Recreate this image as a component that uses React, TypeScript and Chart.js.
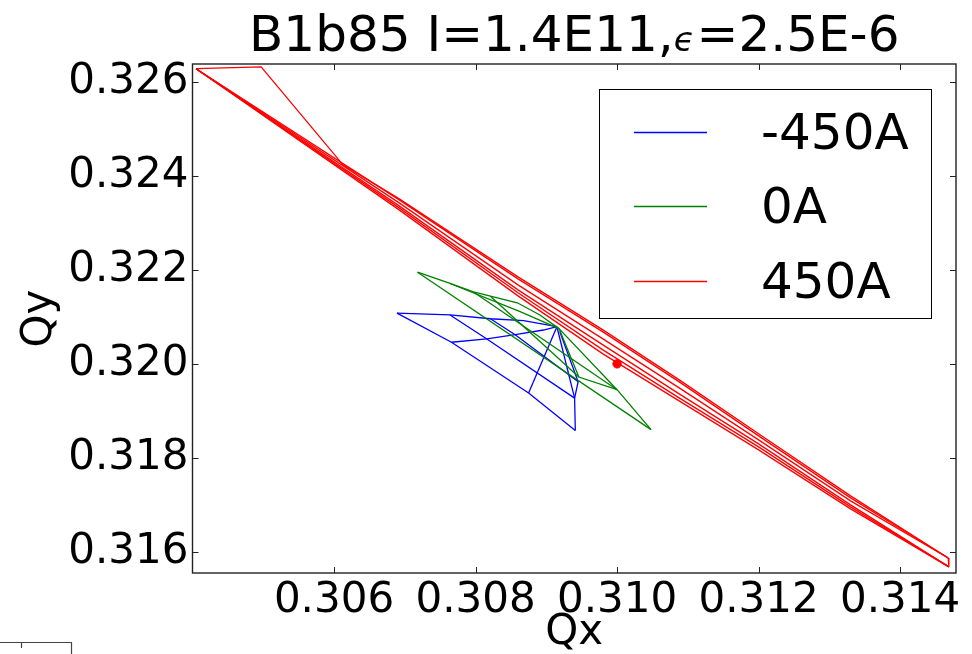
import { useEffect, useRef } from "react";
import { Chart, registerables } from "chart.js";

Chart.register(...registerables);

type Pt = [number, number];

// Axis limits and tick positions
const qxRange: Pt = [0.304, 0.31479];
const qyRange: Pt = [0.31555, 0.32638];
const qxTicks = [0.306, 0.308, 0.31, 0.312, 0.314];
const qyTicks = [0.316, 0.318, 0.32, 0.322, 0.324, 0.326];

const seriesLabels = ["-450A", "0A", "450A"];
const seriesColors = ["#0000ff", "#008000", "#ff0000"];

// -450A tune footprint (Qx, Qy), one polyline per grid line
const neg450Lines: Pt[][] = [
  [[0.30689, 0.32108], [0.30764, 0.32104], [0.30821, 0.32096], [0.30868, 0.32092], [0.30915, 0.32079]],
  [[0.30766, 0.32046], [0.30816, 0.32053], [0.30856, 0.32062], [0.30896, 0.32072], [0.30915, 0.32079]],
  [[0.30689, 0.32108], [0.30766, 0.32046], [0.30875, 0.31938], [0.30941, 0.31858]],
  [[0.30941, 0.31858], [0.3094, 0.31927], [0.30945, 0.31962], [0.30919, 0.32069]],
  [[0.30764, 0.32104], [0.30816, 0.32053], [0.3094, 0.31927]],
  [[0.30821, 0.32096], [0.30856, 0.32062], [0.30945, 0.31962]],
  [[0.30875, 0.31938], [0.30915, 0.32079]],
  [[0.30915, 0.32079], [0.3094, 0.31927]],
];

// 0A tune footprint
const zeroLines: Pt[][] = [
  [[0.30718, 0.32195], [0.30764, 0.32171], [0.30797, 0.32153], [0.30821, 0.32144], [0.30859, 0.3213], [0.30891, 0.32104], [0.30918, 0.32075]],
  [[0.30718, 0.32195], [0.31048, 0.3186]],
  [[0.30918, 0.32075], [0.31, 0.31945], [0.31048, 0.3186]],
  [[0.30918, 0.32075], [0.30946, 0.31972], [0.31, 0.31945]],
  [[0.30797, 0.32153], [0.31, 0.31945]],
  [[0.30821, 0.32144], [0.30946, 0.31972]],
  [[0.30764, 0.32171], [0.30863, 0.32111], [0.30918, 0.32075]],
];

// 450A tune footprint
const pos450Lines: Pt[][] = [
  [[0.30405, 0.32628], [0.30497, 0.32632], [0.30613, 0.32423], [0.3069, 0.323532], [0.3086, 0.321851], [0.3098, 0.320723], [0.3109, 0.319638], [0.312, 0.318511], [0.3133, 0.317191], [0.31468, 0.31587]],
  [[0.30405, 0.32628], [0.3069, 0.323511], [0.3086, 0.321809], [0.3098, 0.320681], [0.3109, 0.319596], [0.312, 0.318468], [0.3133, 0.317149], [0.31468, 0.31587]],
  [[0.30405, 0.32628], [0.3069, 0.323447], [0.3086, 0.321681], [0.3098, 0.320532], [0.3109, 0.319468], [0.312, 0.318383], [0.3133, 0.317085], [0.31468, 0.31587]],
  [[0.30405, 0.32628], [0.3069, 0.323383], [0.3086, 0.321574], [0.3098, 0.320404], [0.3109, 0.31934], [0.312, 0.318298], [0.3133, 0.317], [0.31469, 0.31568]],
  [[0.30405, 0.32628], [0.3069, 0.32334], [0.3086, 0.321511], [0.3098, 0.320298], [0.3109, 0.319255], [0.312, 0.318234], [0.3133, 0.316957], [0.31469, 0.31568]],
  [[0.30405, 0.32628], [0.3069, 0.323298], [0.3086, 0.321447], [0.3098, 0.320213], [0.3109, 0.319191], [0.312, 0.31817], [0.3133, 0.316915], [0.31469, 0.31568]],
  [[0.31468, 0.31587], [0.31469, 0.31568]],
];

// Nominal working point
const workingPoint: Pt = [0.31, 0.32];

const FONT = '"DejaVu Sans", sans-serif';

const decorPlugin = {
  id: "decor",
  afterDraw(chart: any) {
    const ctx: CanvasRenderingContext2D = chart.ctx;
    const { left, right, top, bottom } = chart.chartArea;
    const xs = chart.scales.x;
    const ys = chart.scales.y;
    ctx.save();

    // Frame and inward ticks on all four sides
    ctx.strokeStyle = "#222";
    ctx.lineWidth = 1.4;
    ctx.strokeRect(left, top, right - left, bottom - top);
    ctx.lineWidth = 1;
    ctx.beginPath();
    for (const v of qxTicks) {
      const px = Math.round(xs.getPixelForValue(v)) + 0.5;
      ctx.moveTo(px, bottom);
      ctx.lineTo(px, bottom - 6);
      ctx.moveTo(px, top);
      ctx.lineTo(px, top + 6);
    }
    for (const v of qyTicks) {
      const py = Math.round(ys.getPixelForValue(v)) + 0.5;
      ctx.moveTo(left, py);
      ctx.lineTo(left + 6, py);
      ctx.moveTo(right, py);
      ctx.lineTo(right - 6, py);
    }
    ctx.stroke();

    // Title with a math-italic epsilon
    const cx = (left + right) / 2;
    const part1 = "B1b85 I=1.4E11,";
    const eps = "\u03f5";
    const part2 = "=2.5E-6";
    const big = `50px ${FONT}`;
    const small = `italic 34px ${FONT}`;
    ctx.fillStyle = "#000";
    ctx.textBaseline = "alphabetic";
    ctx.textAlign = "left";
    ctx.font = big;
    const w1 = ctx.measureText(part1).width;
    const w3 = ctx.measureText(part2).width;
    ctx.font = small;
    const w2 = ctx.measureText(eps).width + 2;
    let tx = cx - (w1 + w2 + w3) / 2;
    const ty = 51;
    ctx.font = big;
    ctx.fillText(part1, tx, ty);
    tx += w1;
    ctx.font = small;
    ctx.fillText(eps, tx, ty);
    tx += w2;
    ctx.font = big;
    ctx.fillText(part2, tx, ty);

    // Legend box
    const lx = 599.5, ly = 89.5, lw = 332, lh = 229;
    ctx.fillStyle = "#fff";
    ctx.fillRect(lx, ly, lw, lh);
    ctx.strokeStyle = "#000";
    ctx.lineWidth = 1;
    ctx.strokeRect(lx, ly, lw, lh);
    const rows = [132, 206, 281];
    ctx.font = `50px ${FONT}`;
    seriesLabels.forEach((lab, i) => {
      const y = rows[i] + 0.5;
      ctx.strokeStyle = seriesColors[i];
      ctx.lineWidth = 1.3;
      ctx.beginPath();
      ctx.moveTo(634, y);
      ctx.lineTo(707, y);
      ctx.stroke();
      ctx.fillStyle = "#000";
      ctx.fillText(lab, 761, rows[i] + 16.5);
    });

    // Edge of a neighbouring axes frame in the corner
    ctx.strokeStyle = "#444";
    ctx.lineWidth = 1.2;
    ctx.beginPath();
    ctx.moveTo(0, 642.5);
    ctx.lineTo(71.5, 642.5);
    ctx.lineTo(71.5, 654);
    ctx.moveTo(21.5, 642.5);
    ctx.lineTo(21.5, 648);
    ctx.stroke();

    ctx.restore();
  },
};

export default function App() {
  const canvasRef = useRef<HTMLCanvasElement | null>(null);

  useEffect(() => {
    const canvas = canvasRef.current;
    if (!canvas) return;

    const groups = [neg450Lines, zeroLines, pos450Lines];
    const datasets: any[] = [];
    groups.forEach((lines, gi) => {
      lines.forEach((line) => {
        datasets.push({
          label: seriesLabels[gi],
          data: line.map(([x, y]) => ({ x, y })),
          borderColor: seriesColors[gi],
          backgroundColor: seriesColors[gi],
          borderWidth: 1.3,
          pointRadius: 0,
          pointHoverRadius: 0,
          showLine: true,
          fill: false,
          tension: 0,
          order: 3 - gi,
        });
      });
    });
    datasets.push({
      label: "working point",
      data: [{ x: workingPoint[0], y: workingPoint[1] }],
      borderColor: "#ff0000",
      backgroundColor: "#ff0000",
      pointRadius: 4.2,
      showLine: false,
      order: 0,
    });

    const chart = new Chart(canvas, {
      type: "scatter",
      data: { datasets },
      options: {
        animation: false,
        responsive: false,
        devicePixelRatio: 1,
        layout: { padding: { top: 64, right: 16, left: 0, bottom: 0 } },
        plugins: {
          legend: { display: false },
          title: { display: false },
          tooltip: { enabled: false },
        },
        scales: {
          x: {
            type: "linear",
            min: qxRange[0],
            max: qxRange[1],
            grid: { display: false, drawTicks: false },
            border: { display: false },
            afterBuildTicks: (scale: any) => {
              scale.ticks = qxTicks.map((v) => ({ value: v }));
            },
            afterFit: (scale: any) => {
              scale.height = 81;
            },
            ticks: {
              autoSkip: false,
              maxRotation: 0,
              minRotation: 0,
              padding: 3,
              color: "#000",
              font: { family: FONT, size: 42 },
              callback: (v: any) => Number(v).toFixed(3),
            },
            title: {
              display: true,
              text: "Qx",
              color: "#000",
              font: { family: FONT, size: 42, lineHeight: 1 },
              padding: { top: 1, bottom: 0 },
            },
          },
          y: {
            type: "linear",
            min: qyRange[0],
            max: qyRange[1],
            grid: { display: false, drawTicks: false },
            border: { display: false },
            afterBuildTicks: (scale: any) => {
              scale.ticks = qyTicks.map((v) => ({ value: v }));
            },
            afterFit: (scale: any) => {
              scale.width = 192.5;
            },
            ticks: {
              autoSkip: false,
              padding: 4,
              color: "#000",
              font: { family: FONT, size: 42 },
              callback: (v: any) => Number(v).toFixed(3),
            },
            title: {
              display: true,
              text: "Qy",
              color: "#000",
              font: { family: FONT, size: 42, lineHeight: 1 },
              padding: { top: 19, bottom: 0 },
            },
          },
        },
      },
      plugins: [decorPlugin],
    });

    return () => chart.destroy();
  }, []);

  return (
    <div style={{ position: "absolute", left: 0, top: 0, width: 972, height: 654, background: "#fff" }}>
      <canvas ref={canvasRef} width={972} height={654} style={{ display: "block" }} />
    </div>
  );
}
